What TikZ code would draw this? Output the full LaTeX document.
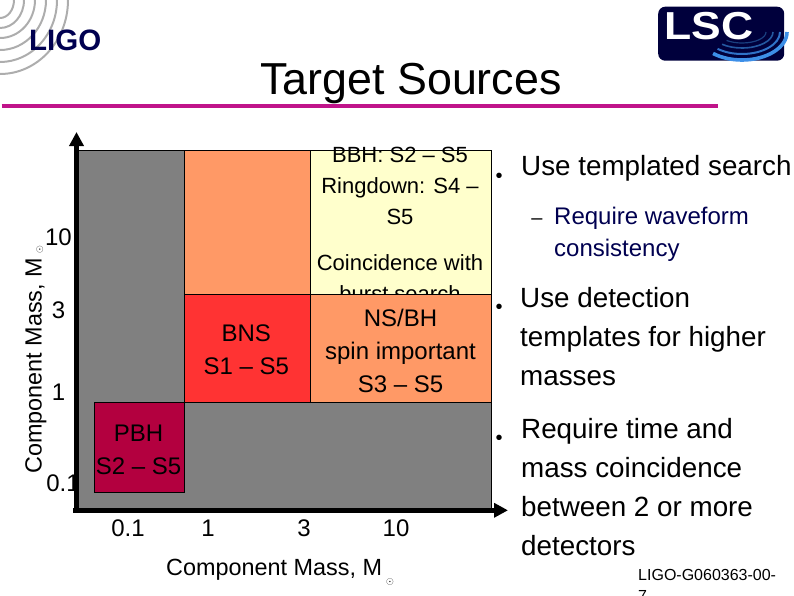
\documentclass[tikz,border=0pt]{standalone}
\usepackage{fontspec}
\setmainfont{Liberation Sans}
\usetikzlibrary{positioning, arrows.meta}
\definecolor{ligonavy}{HTML}{000050}
\definecolor{lscnavy}{HTML}{00003C}
\definecolor{rulepink}{HTML}{C0148A}
\definecolor{areagray}{HTML}{808080}
\definecolor{areaorange}{HTML}{FF9966}
\definecolor{areared}{HTML}{FF3333}
\definecolor{areayellow}{HTML}{FFFFCC}
\definecolor{areawine}{HTML}{B3003F}
\definecolor{wavea}{HTML}{3D8FE8}
\definecolor{waveb}{HTML}{2F72C8}
\definecolor{wavec}{HTML}{2458A0}
\definecolor{waved}{HTML}{1A4080}
\newcommand{\fsize}[2]{\fontsize{#1}{#2}\selectfont}
\newcommand{\sunmark}[1]{\hspace{4pt}\raisebox{#1}{\fsize{10}{10}$\odot$}}
\tikzset{
  srcbox/.style={draw=black, line width=0.8pt, inner sep=0pt, outer sep=0pt, anchor=north west},
  boxtext/.style={align=center, inner sep=0pt, font=\fsize{24}{33}},
  ticktext/.style={inner sep=0pt, font=\fsize{24}{30}},
  itemtext/.style={anchor=north west, align=left, inner sep=0pt, font=\fsize{27.8}{39}},
  subtext/.style={anchor=north west, align=left, inner sep=0pt, text=ligonavy, font=\fsize{24}{32}},
  bulletmark/.style={inner sep=0pt, anchor=base, font=\fsize{20}{20}},
  axisline/.style={line width=4.6pt, -{Triangle[length=14pt,width=14pt]}},
}
\begin{document}
\begin{tikzpicture}[x=1pt, y=-1pt]
  \clip (0,0) rectangle (794,595);
  \useasboundingbox (0,0) rectangle (794,595);

  % LIGO logo
  \foreach \rx/\ry in {68/74, 57/62, 46/50, 35/38, 24/28, 14/18}
    \draw[line width=2pt, black!32] (\rx,0) arc[start angle=0, end angle=90, x radius=\rx, y radius=\ry];
  \node[inner sep=0pt, anchor=base west, text=ligonavy, font=\fsize{29.5}{30}\bfseries] (ligo) at (29,50.5) {LIGO};

  % LSC logo
  \node[fill=lscnavy, rounded corners=7pt, minimum width=126pt, minimum height=54pt, inner sep=0pt, anchor=north west] (lscback) at (658,6.5) {};
  \foreach \rx/\ry/\wd/\col in {45/28/3.6/wavea, 38/22/2/waveb, 31/16/1.6/wavec, 24/11/1.2/waved}
    \draw[line width=\wd pt, \col] (742+\rx,32) arc[start angle=0, end angle=130, x radius=\rx, y radius=\ry];
  \node[inner sep=0pt, anchor=base west, text=white, font=\fsize{39}{39}\bfseries] (lsc) at (664,39) {\scalebox{1.14}[1]{LSC}};

  % Title
  \node[inner sep=0pt, anchor=base, font=\fsize{44.8}{45}] (title) at (411,94) {Target Sources};
  \coordinate (ruleleft) at (1.5,106);
  \coordinate (ruleright) at (718,106);
  \draw[line width=3.2pt, rulepink] (ruleleft) -- (ruleright);

  % Mass plane
  \node[srcbox, fill=areagray, minimum width=413pt, minimum height=360pt] (plane) at (78,150) {};
  \node[srcbox, fill=areaorange, minimum width=125.5pt, minimum height=144pt] (heavy) at (184.5,150) {};
  \node[srcbox, fill=areayellow, minimum width=181pt, minimum height=144pt, right=0pt of heavy] (bbh) {};
  \node[boxtext, anchor=north, font=\fsize{22}{31}] (bbhtext) at (400,147) {BBH: S2 – S5\\Ringdown: S4 –\\S5\\[15pt]Coincidence with\\burst search};
  \node[srcbox, fill=areared, minimum width=125.5pt, minimum height=108.5pt, below=0pt of heavy] (bns) {};
  \node[srcbox, fill=areaorange, minimum width=181pt, minimum height=108.5pt, below=0pt of bbh] (nsbh) {};
  \node[srcbox, fill=areawine, minimum width=90pt, minimum height=90pt, below left=0pt and 0pt of bns.south west] (pbh) {};

  % Labels in the boxes
  \node[boxtext, xshift=-1pt, yshift=-1pt] (bnstext) at (bns) {BNS\\S1 – S5};
  \node[boxtext, yshift=-3pt] (nsbhtext) at (nsbh) {NS/BH\\spin important\\S3 – S5};
  \node[boxtext, xshift=-1pt, yshift=-2pt] (pbhtext) at (pbh) {PBH\\S2 – S5};

  % Tick labels
  \node[ticktext] (y10) at (58.5,237) {10};
  \node[ticktext] (y3) at (58.5,310) {3};
  \node[ticktext] (y1) at (58.5,392) {1};
  \node[ticktext] (y01) at (63,483) {0.1};
  \node[ticktext] (x01) at (128,528) {0.1};
  \node[ticktext] (x1) at (208,528) {1};
  \node[ticktext] (x3) at (304,528) {3};
  \node[ticktext] (x10) at (396,528) {10};

  % Axis names
  \node[inner sep=0pt, anchor=base west, font=\fsize{23.4}{30}] (xname) at (166,575) {Component Mass, M\sunmark{-9pt}};
  \node[inner sep=0pt, anchor=base west, rotate=90, font=\fsize{23.4}{30}] (yname) at (41.5,474) {Component Mass, M\sunmark{-1pt}};

  % Axes
  \coordinate (origin) at (76.5,510.3);
  \coordinate (xstart) at (73,510.3);
  \coordinate (ytip) at (76.5,132);
  \coordinate (xtip) at (508,510.3);
  \draw[axisline] (origin) -- (ytip);
  \draw[axisline] (xstart) -- (xtip);

  % Bullet list
  \node[bulletmark] (bul1) at (499,182) {•};
  \node[itemtext] (item1) at (521,155) {Use templated search};
  \node[bulletmark, font=\fsize{20}{20}] (dash1) at (537,224.5) {–};
  \node[subtext] (sub1) at (554,207) {Require waveform\\consistency};
  \node[bulletmark] (bul2) at (499,313) {•};
  \node[itemtext] (item2) at (520,287) {Use detection\\templates for higher\\masses};
  \node[bulletmark] (bul3) at (499,444) {•};
  \node[itemtext] (item3) at (521,418) {Require time and\\mass coincidence\\between 2 or more\\detectors};

  % Document number
  \node[anchor=north west, align=left, inner sep=0pt, font=\fsize{16}{21}] (docnum) at (638,569) {LIGO-G060363-00-\\7};
\end{tikzpicture}
\end{document}
